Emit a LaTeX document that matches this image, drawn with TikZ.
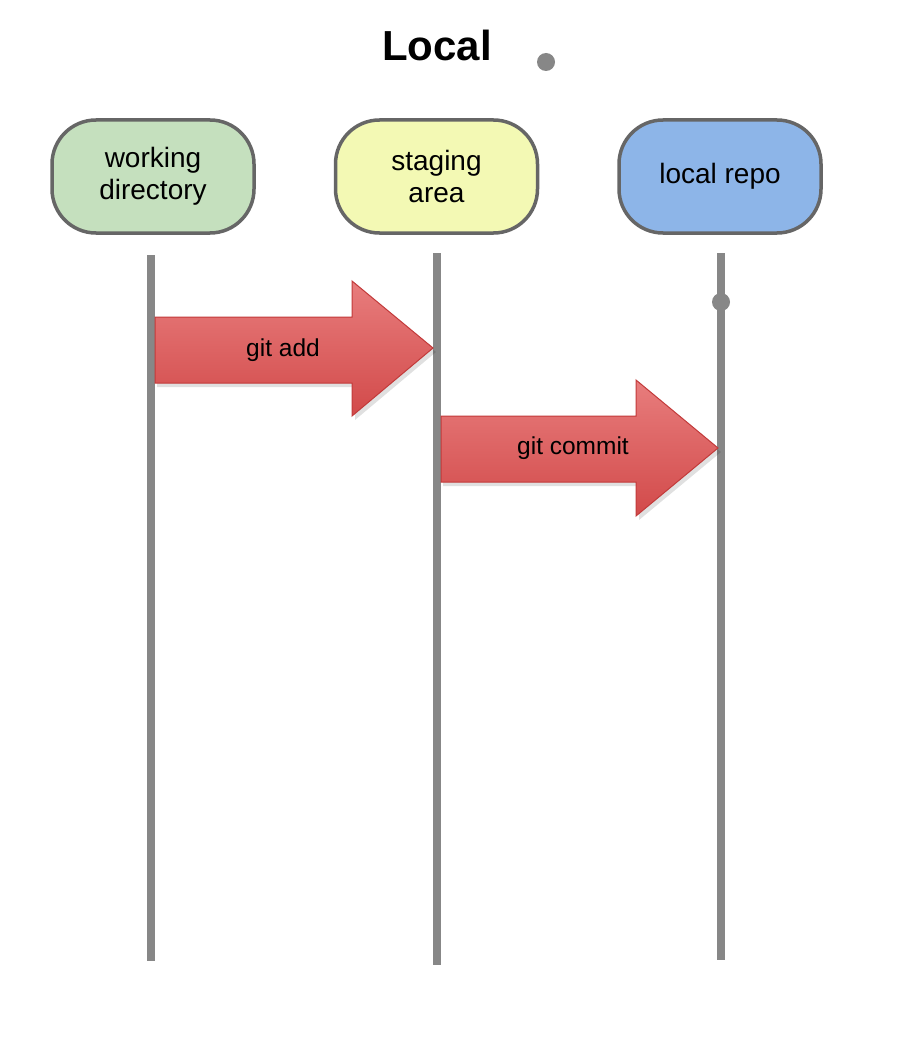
\documentclass[tikz,border=0pt]{standalone}
\usepackage{fontspec}
\setmainfont{Liberation Sans}
\usetikzlibrary{positioning}
\definecolor{boxborder}{HTML}{666666}
\definecolor{wdfill}{HTML}{C5E0BE}
\definecolor{safill}{HTML}{F3F9B4}
\definecolor{lrfill}{HTML}{8DB5E8}
\definecolor{lanegray}{HTML}{878787}
\definecolor{arrtop}{HTML}{E87D7D}
\definecolor{arrbot}{HTML}{D24A4A}
\definecolor{arrdraw}{HTML}{C23A3A}
\tikzset{
  area/.style={draw=boxborder, line width=3.5pt, rounded corners=44pt,
    minimum width=202pt, minimum height=113pt, align=center,
    font=\fontsize{28}{32}\selectfont, text=black},
  lane/.style={draw=lanegray, line width=7.5pt},
  dotmark/.style={circle, fill=lanegray, inner sep=0pt, minimum size=18pt},
  bigarrow/.style={top color=arrtop, bottom color=arrbot, draw=arrdraw, line width=1pt, line join=miter},
  arrshadow/.style={fill=black, opacity=0.12},
  arrlabel/.style={font=\fontsize{24.5}{28}\selectfont, text=black, inner sep=0pt}
}
\begin{document}
\begin{tikzpicture}[x=1pt,y=-1pt]
\useasboundingbox (0,0) rectangle (900,1043);
\fill[white] (0,0) rectangle (900,1043);

% title
\node[font=\fontsize{42}{48}\selectfont\bfseries] (title) at (437,45) {Local};
\node[dotmark] (topdot) at (546,62) {};

% areas
\node[area, fill=wdfill] (wd) at (153,176.5) {working\\directory};
\node[area, fill=safill] (sa) at (436.5,176.5) {staging\\area};
\node[area, fill=lrfill] (lr) at (720,176.5) {local repo};

% lanes
\coordinate (wdtop) at (151,255);
\coordinate (wdbot) at (151,961);
\coordinate (satop) at (437,253);
\coordinate (sabot) at (437,965);
\coordinate (lrtop) at (721,253);
\coordinate (lrbot) at (721,960);
\draw[lane] (wdtop) -- (wdbot);
\draw[lane] (satop) -- (sabot);
\draw[lane] (lrtop) -- (lrbot);
\node[dotmark] (lrdot) at (721,302) {};

% git add arrow
\fill[arrshadow] (157,321) -- (355,321) -- (355,285) -- (436,352) -- (355,420) -- (355,387) -- (157,387) -- cycle;
\path[bigarrow] (155,317) -- (352,317) -- (352,281) -- (433,348) -- (352,416) -- (352,383) -- (155,383) -- cycle;
\node[arrlabel] (add) at (283,350) {git add};

% git commit arrow
\fill[arrshadow] (443,420) -- (639,420) -- (639,384) -- (721,452) -- (639,520) -- (639,486) -- (443,486) -- cycle;
\path[bigarrow] (441,416) -- (636,416) -- (636,380) -- (718,448) -- (636,516) -- (636,482) -- (441,482) -- cycle;
\node[arrlabel] (commit) at (573,448) {git commit};
\end{tikzpicture}
\end{document}
